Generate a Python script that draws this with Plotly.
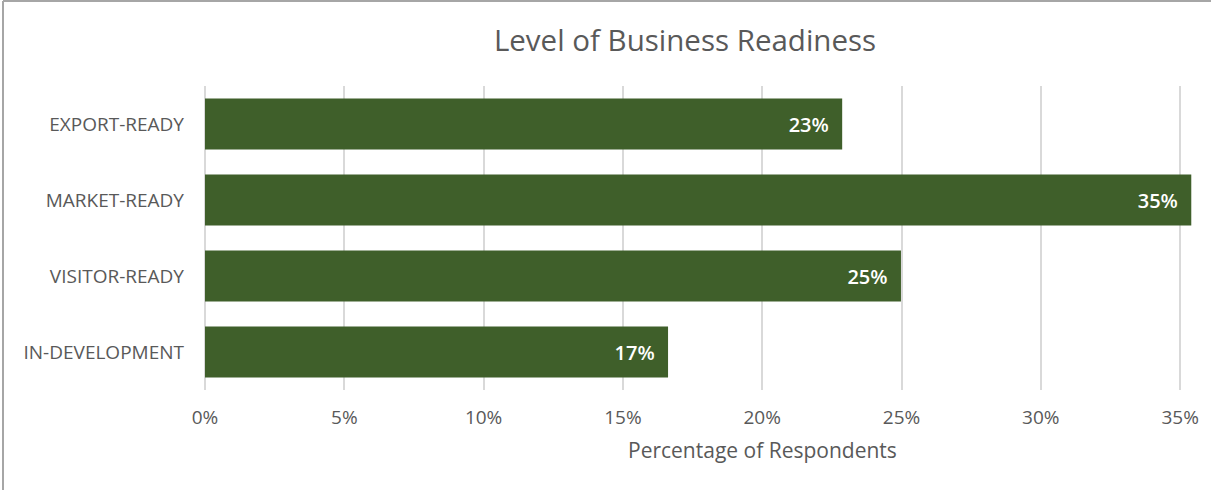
import plotly.graph_objects as go

categories = ['IN-DEVELOPMENT', 'VISITOR-READY', 'MARKET-READY', 'EXPORT-READY']
values = [16.62, 24.98, 35.4, 22.87]

W, H = 1211, 490
ml, mr, mt, mb = 205, 3, 86, 100
pw, ph = W - ml - mr, H - mt - mb

font = 'Open Sans'
grey = '#595959'

fig = go.Figure(go.Bar(
    y=categories,
    x=values,
    orientation='h',
    marker=dict(color='#3F5F2A', line=dict(width=0)),
    width=0.67,
    texttemplate='%{x:.0f}%\u00a0\u00a0',
    textposition='inside',
    insidetextanchor='end',
    textfont=dict(family=font, size=20, color='white', weight=600),
    cliponaxis=False,
))

fig.update_layout(
    width=W, height=H,
    margin=dict(l=ml, r=mr, t=mt, b=mb),
    paper_bgcolor='white', plot_bgcolor='white',
    title=dict(text='Level of Business Readiness', x=(685 - ml) / pw, xref='paper',
               xanchor='center', y=1 - 41 / H, yanchor='middle',
               font=dict(family=font, size=29.5, color=grey)),
    xaxis=dict(range=[0, 36], dtick=5, ticksuffix='%',
               showgrid=True, gridcolor='#D9D9D9', gridwidth=1.5,
               zeroline=True, zerolinecolor='#D9D9D9', zerolinewidth=1.5,
               ticks='', ticklabelstandoff=14,
               tickfont=dict(family=font, size=19, color=grey)),
    yaxis=dict(showgrid=False, ticks='', ticklabelstandoff=20,
               tickfont=dict(family=font, size=19, color=grey)),
    showlegend=False,
    annotations=[dict(text='Percentage of Respondents', xref='paper', yref='paper',
                      x=(762 - ml) / pw, y=(mt + ph - 450) / ph,
                      xanchor='center', yanchor='middle', showarrow=False,
                      font=dict(family=font, size=21, color=grey))],
    shapes=[
        dict(type='line', xref='paper', yref='paper',
             x0=(3 - ml) / pw, x1=(3 - ml) / pw,
             y0=(mt + ph - H) / ph, y1=(mt + ph - 1) / ph,
             line=dict(color='#A6A6A6', width=2)),
        dict(type='line', xref='paper', yref='paper',
             x0=(3 - ml) / pw, x1=(W - ml) / pw,
             y0=(mt + ph - 1) / ph, y1=(mt + ph - 1) / ph,
             line=dict(color='#A6A6A6', width=2)),
    ],
)

fig.write_html('out.html', config={'displayModeBar': False},
               post_script="document.body.style.margin='0';")
